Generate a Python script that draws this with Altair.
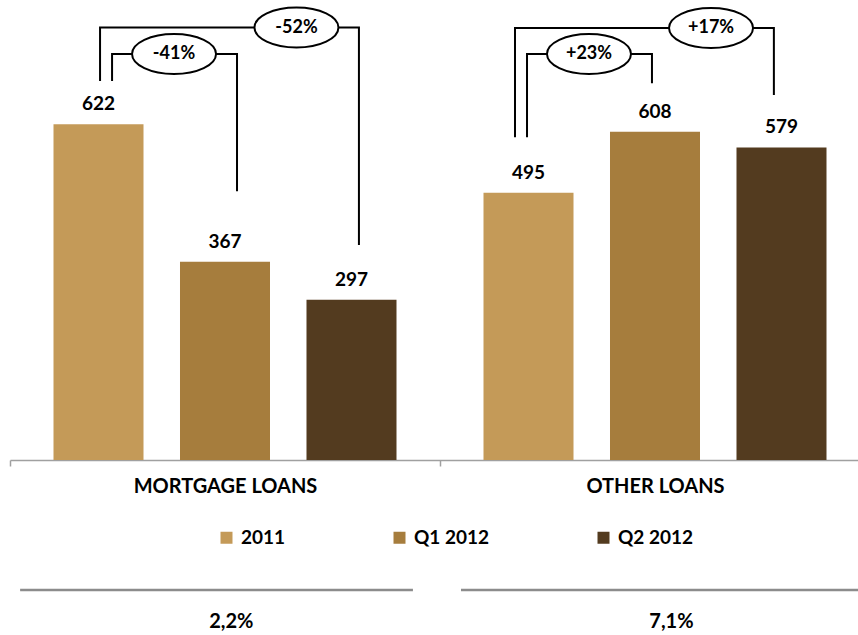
import altair as alt
import pandas as pd

# ---------------- data ----------------
groups = ["MORTGAGE LOANS", "OTHER LOANS"]
series = ["2011", "Q1 2012", "Q2 2012"]
mortgage_values = [622, 367, 297]
other_values = [495, 608, 579]
colors = ["#C49A58", "#A67D3D", "#533B1F"]

change_labels = ["-41%", "-52%", "+23%", "+17%"]
change_groups = [groups[0], groups[0], groups[1], groups[1]]
rates = ["2,2%", "7,1%"]

# ---------------- annotation layout (series-index units / value units) ----------------
bracket_from = [0.107, 0.012, -0.012, -0.107]
bracket_to = [1.095, 2.059, 0.976, 1.94]
bracket_from_base = [702, 702, 598, 598]
bracket_to_base = [498, 398, 698, 676]
bracket_top = [752, 801, 752, 800]
label_pos = [0.597, 1.565, 0.478, 1.443]
rate_pos = [1.05, 1.13]
divider_from = [-0.62, -0.534]
divider_to = [2.486, 2.7]

FONT = "Lato"
ELLIPSE = "M-1,0A1,0.476,0,1,1,1,0A1,0.476,0,1,1,-1,0Z"

bars_df = pd.DataFrame({
    "group": [groups[0]] * 3 + [groups[1]] * 3,
    "series": series * 2,
    "value": mortgage_values + other_values,
})

rows = []
for i in range(len(change_labels)):
    pts = [
        (bracket_from[i], bracket_from_base[i]),
        (bracket_from[i], bracket_top[i]),
        (bracket_to[i], bracket_top[i]),
        (bracket_to[i], bracket_to_base[i]),
    ]
    for k, (p, v) in enumerate(pts):
        rows.append({"id": i, "group": change_groups[i], "pos": p, "level": v, "step": k})
br_df = pd.DataFrame(rows)

lab_df = pd.DataFrame({"group": change_groups, "pos": label_pos,
                       "level": bracket_top, "label": change_labels})
rate_df = pd.DataFrame({"group": groups, "pos": rate_pos, "rate": rates})
div_rows = []
for g, a, b in zip(groups, divider_from, divider_to):
    div_rows.append({"group": g, "pos": a, "step": 0})
    div_rows.append({"group": g, "pos": b, "step": 1})
div_df = pd.DataFrame(div_rows)

# ---------------- encodings ----------------
x_enc = alt.X(
    "group:N", sort=groups,
    scale=alt.Scale(domain=groups, range=[0, 860], paddingInner=0, paddingOuter=0),
    axis=alt.Axis(title=None, labelAngle=0, tickBand="extent", grid=False,
                  domainColor="#A0A0A0", domainWidth=1.5, tickColor="#A0A0A0",
                  tickWidth=1.5, tickSize=6, labelFont=FONT, labelFontWeight="bold",
                  labelFontSize=20, labelColor="black", labelPadding=10, labelLimit=0),
)
y_scale = alt.Scale(domain=[0, 852], nice=False, zero=True)
xoff_n = alt.XOffset("series:N", sort=series,
                     scale=alt.Scale(domain=series, paddingInner=0.2885, paddingOuter=0.3439))
xoff_q = alt.XOffset("pos:Q", scale=alt.Scale(domain=[-0.7, 2.7], range=[0, 430],
                                              nice=False, zero=False))

bars = alt.Chart(bars_df).mark_bar().encode(
    x=x_enc,
    xOffset=xoff_n,
    y=alt.Y("value:Q", scale=y_scale, axis=None),
    color=alt.Color(
        "series:N", sort=series,
        scale=alt.Scale(domain=series, range=colors),
        legend=alt.Legend(title=None, orient="none", legendX=207, legendY=528,
                          direction="horizontal", columns=3, symbolType="square",
                          symbolSize=144, symbolStrokeWidth=0, labelFont=FONT,
                          labelFontWeight="bold", labelFontSize=19, labelColor="black",
                          columnPadding=104, labelOffset=5, padding=0),
    ),
)
values = alt.Chart(bars_df).mark_text(
    font=FONT, fontWeight="bold", fontSize=19, dy=-14, baseline="alphabetic",
    align="center", color="black",
).encode(
    x=x_enc, xOffset=xoff_n,
    y=alt.Y("value:Q", scale=y_scale, axis=None),
    text="value:Q",
)
bar_layer = alt.layer(bars, values)

brackets = alt.Chart(br_df).mark_line(color="black", strokeWidth=2, strokeJoin="miter").encode(
    x=x_enc, xOffset=xoff_q,
    y=alt.Y("level:Q", scale=y_scale, axis=None),
    detail="id:N", order="step:Q",
)
ellipses = alt.Chart(lab_df).mark_point(
    shape=ELLIPSE, size=84 * 84, filled=True, fill="white", stroke="black",
    strokeWidth=2, opacity=1,
).encode(x=x_enc, xOffset=xoff_q, y=alt.Y("level:Q", scale=y_scale, axis=None))
ellipse_text = alt.Chart(lab_df).mark_text(
    font=FONT, fontWeight="bold", fontSize=18, baseline="middle", align="center",
    color="black",
).encode(x=x_enc, xOffset=xoff_q, y=alt.Y("level:Q", scale=y_scale, axis=None),
         text="label:N")
dividers = alt.Chart(div_df).mark_line(color="#8C8C8C", strokeWidth=2.5).encode(
    x=x_enc, xOffset=xoff_q, y=alt.value(590), detail="group:N", order="step:Q",
)
rate_text = alt.Chart(rate_df).mark_text(
    font=FONT, fontWeight="bold", fontSize=20, baseline="middle", align="center",
    color="black",
).encode(x=x_enc, xOffset=xoff_q, y=alt.value(622), text="rate:N")

annot_layer = alt.layer(brackets, ellipses, ellipse_text, dividers, rate_text)

chart = alt.layer(bar_layer, annot_layer).resolve_scale(xOffset="independent").properties(
    width=848, height=460,
    autosize=alt.AutoSizeParams(type="none"),
    padding={"left": 10, "top": 0, "right": 0, "bottom": 175},
    background="white",
).configure_view(strokeWidth=0)

chart.save("out.html", embed_options={"renderer": "svg", "actions": False})
